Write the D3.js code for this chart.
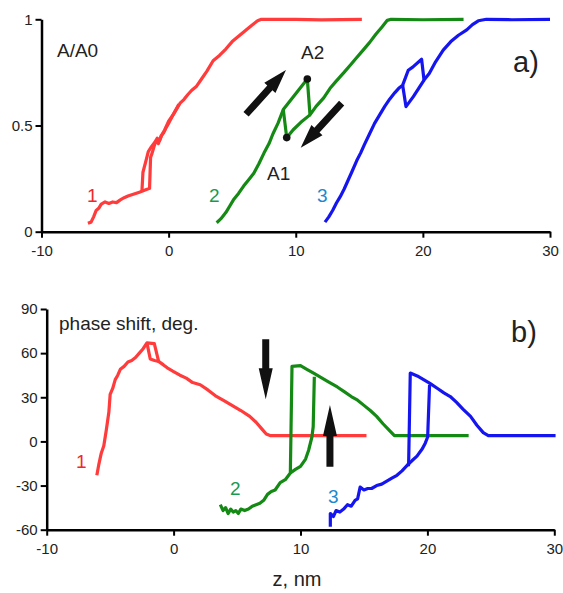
<!DOCTYPE html>
<html>
<head>
<meta charset="utf-8">
<script src="https://cdn.jsdelivr.net/npm/d3@7"></script>
<style>
  body { margin: 0; background: #fff; }
  text { font-family: "Liberation Sans", Arial, sans-serif; fill: #222; }
</style>
</head>
<body>
<div id="chart"></div>
<script>
const width = 563,
      height = 593;

// tick labels
const zTicks = [-10, 0, 10, 20, 30];
const ampTicks = [0, 0.5, 1];
const phaseTicks = [-60, -30, 0, 30, 60, 90];

// a) amplitude A/A0 vs z (nm), each curve: main run + the other branch of its loop
const amp1 = [[-6.35,0.04],[-6.1,0.045],[-5.9,0.07],[-5.7,0.1],[-5.5,0.11],[-5.3,0.13],[-5.0,0.14],[-4.7,0.133],[-4.4,0.14],[-4.1,0.137],[-3.8,0.15],[-3.5,0.16],[-3.2,0.168],[-2.9,0.174],[-2.6,0.18],[-2.3,0.186],[-2.1,0.19],[-1.8,0.197],[-1.5,0.204],[-1.42,0.35],[-1.3,0.37],[-1.1,0.41],[-0.95,0.43],[-0.8,0.415],[-0.6,0.45],[-0.4,0.465],[-0.2,0.49],[0,0.51],[0.3,0.545],[0.6,0.575],[0.9,0.605],[1.2,0.622],[1.5,0.645],[1.8,0.665],[2.2,0.685],[2.6,0.72],[3.0,0.755],[3.5,0.805],[4.0,0.83],[4.5,0.86],[5.0,0.895],[5.5,0.92],[6.0,0.945],[6.5,0.97],[7.0,0.993],[7.3,1.0],[10,1.0],[12,0.997],[15.2,1.0]];
const amp1Loop = [[-2.1,0.19],[-2.02,0.28],[-1.8,0.33],[-1.6,0.377],[-1.35,0.4],[-1.1,0.42],[-0.9,0.44],[-0.7,0.43],[-0.5,0.46],[-0.3,0.48],[0,0.52],[0.4,0.555],[0.8,0.6]];
const amp2 = [[3.78,0.042],[4.1,0.06],[4.5,0.09],[4.8,0.12],[5.1,0.15],[5.5,0.18],[5.9,0.215],[6.3,0.245],[6.7,0.275],[7.1,0.32],[7.5,0.37],[7.9,0.415],[8.2,0.46],[8.6,0.51],[9.02,0.575],[10.91,0.719],[11.12,0.55],[11.6,0.59],[12.2,0.63],[12.7,0.675],[13.2,0.71],[13.8,0.75],[14.3,0.785],[14.8,0.82],[15.3,0.855],[15.8,0.89],[16.3,0.93],[16.8,0.965],[17.2,0.995],[17.5,1.0],[20,0.998],[23.2,1.0]];
const amp2Loop = [[9.02,0.575],[9.29,0.443],[9.8,0.48],[10.4,0.515],[11.12,0.55]];
const amp3 = [[12.3,0.045],[12.6,0.07],[12.9,0.1],[13.2,0.135],[13.5,0.165],[13.8,0.2],[14.1,0.24],[14.4,0.28],[14.8,0.335],[15.1,0.37],[15.4,0.41],[15.8,0.46],[16.2,0.51],[16.6,0.55],[17.0,0.59],[17.4,0.625],[17.8,0.655],[18.1,0.675],[18.41,0.69],[18.85,0.76],[19.2,0.775],[19.9,0.812],[20.09,0.714],[20.5,0.745],[21.0,0.8],[21.6,0.855],[22.2,0.895],[22.8,0.925],[23.45,0.95],[23.9,0.975],[24.36,0.993],[25,1.0],[27,0.998],[30,1.0]];
const amp3Loop = [[18.41,0.69],[18.67,0.589],[19.25,0.636],[20.09,0.714]];

// b) phase shift (deg.) vs z (nm)
const phase1 = [[-6.05,-23],[-5.9,-16],[-5.7,-8],[-5.5,-3],[-5.3,8],[-5.1,20],[-5.0,32],[-4.8,36],[-4.6,42],[-4.4,45],[-4.2,49],[-3.9,51],[-3.6,54],[-3.3,55],[-3.0,57],[-2.7,60],[-2.4,63],[-2.1,67],[-1.52,66.5],[-1.18,54.4],[-0.8,52],[-0.5,50],[0,47.5],[0.5,45],[1.0,43],[1.5,40],[2.1,38.5],[2.7,35],[3.3,31],[4.0,27.5],[4.7,24],[5.3,21],[6.0,17],[6.5,13],[7.0,8],[7.3,5],[7.6,4],[10,4],[15.2,4]];
const phase1Loop = [[-2.1,67],[-1.84,56],[-1.5,55],[-1.18,54.4]];
const phase2 = [[3.68,-43],[3.9,-47],[4.1,-45],[4.3,-49],[4.5,-46],[4.7,-48],[4.9,-47],[5.1,-49],[5.3,-46],[5.6,-47],[5.9,-46],[6.2,-44],[6.5,-43],[6.8,-42],[7.1,-40],[7.4,-36],[7.7,-34],[8.0,-33],[8.4,-28],[8.8,-26],[9.2,-21.5],[9.33,51],[10.0,51.5],[10.5,49],[11.1,46],[11.6,43.5],[12.2,40.5],[12.9,37],[13.5,33.5],[14.0,30.5],[14.5,28],[15.0,24.5],[15.5,21],[16.0,17],[16.5,12],[17.0,7.5],[17.4,4],[20,4],[23.25,4]];
const phase2Loop = [[9.2,-21.5],[9.6,-19],[10.0,-17],[10.4,-12],[10.64,-6],[10.9,3],[11.0,10],[11.09,44]];
const phase3 = [[12.35,-58],[12.35,-49],[12.6,-51],[12.8,-47],[13.1,-48],[13.4,-46],[13.7,-43],[14.0,-44],[14.3,-40],[14.5,-39],[14.7,-31],[15.0,-33],[15.3,-32],[15.6,-32],[16.0,-30],[16.4,-29],[16.8,-27],[17.2,-25],[17.6,-23],[18.0,-20],[18.44,-16],[18.52,-16],[18.65,46.5],[19.2,44.5],[19.7,42],[20.2,39.5],[20.8,36],[21.3,33],[21.8,30.5],[22.3,26.5],[22.8,22],[23.4,17],[23.9,11],[24.4,6],[24.8,4],[27,4],[30.1,4]];
const phase3Loop = [[18.44,-16],[18.8,-13],[19.18,-10],[19.6,-5],[19.84,-1],[20.02,3],[20.17,38.5]];

// marked points A1, A2 and direction arrows (data coords)
const markers = [{name: "A1", z: 9.29, v: 0.443}, {name: "A2", z: 10.91, v: 0.719}];
const ampArrows = [[[6.09,0.553],[9.23,0.761]], [[13.61,0.605],[10.39,0.395]]];
const phaseArrows = [[[7.26,69.4],[7.26,28.6]], [[12.32,-17.2],[12.32,24.8]]];

const red = "#ff3b3b", green = "#148a14", blue = "#1515f0";

const svg = d3.select("#chart").append("svg")
    .attr("width", width)
    .attr("height", height);

// scales
const xTop = d3.scaleLinear().domain([-10, 30]).range([41.5, 550]);
const yTop = d3.scaleLinear().domain([0, 1]).range([231.7, 19.3]);
const xBot = d3.scaleLinear().domain([-10, 30]).range([46.7, 554.3]);
const yBot = d3.scaleLinear().domain([-60, 90]).range([529.7, 309]);

// plain hyphen for negatives, like the original
const plain = d => String(d);

function drawAxes(x, y, yTicks) {
  const gx = svg.append("g")
      .attr("transform", `translate(0,${y.range()[0]})`)
      .call(d3.axisBottom(x).tickValues(zTicks).tickFormat(plain).tickSize(6).tickSizeOuter(0).tickPadding(8));
  const gy = svg.append("g")
      .attr("transform", `translate(${x.range()[0]},0)`)
      .call(d3.axisLeft(y).tickValues(yTicks).tickFormat(plain).tickSize(6).tickSizeOuter(0).tickPadding(3));
  [gx, gy].forEach(g => {
    g.select(".domain").attr("stroke", "#000").attr("stroke-width", 2.5);
    g.selectAll(".tick line").attr("stroke", "#000").attr("stroke-width", 2);
    g.selectAll(".tick text").style("font-size", "15px").attr("fill", "#222")
      .style("font-family", '"Liberation Sans", Arial, sans-serif');
  });
}

drawAxes(xTop, yTop, ampTicks);
drawAxes(xBot, yBot, phaseTicks);

function drawCurve(x, y, pts, color) {
  const line = d3.line().x(d => x(d[0])).y(d => y(d[1]));
  svg.append("path")
    .datum(pts)
    .attr("d", line)
    .attr("fill", "none")
    .attr("stroke", color)
    .attr("stroke-width", 3.2)
    .attr("stroke-linejoin", "round");
}

drawCurve(xTop, yTop, amp1, red);
drawCurve(xTop, yTop, amp1Loop, red);
drawCurve(xTop, yTop, amp2, green);
drawCurve(xTop, yTop, amp2Loop, green);
drawCurve(xTop, yTop, amp3, blue);
drawCurve(xTop, yTop, amp3Loop, blue);

drawCurve(xBot, yBot, phase1, red);
drawCurve(xBot, yBot, phase1Loop, red);
drawCurve(xBot, yBot, phase2, green);
drawCurve(xBot, yBot, phase2Loop, green);
drawCurve(xBot, yBot, phase3, blue);
drawCurve(xBot, yBot, phase3Loop, blue);

// thick black arrow: shaft + triangular head
function arrow(x, y, a, headLen, headW, shaftW) {
  const x1 = x(a[0][0]), y1 = y(a[0][1]), x2 = x(a[1][0]), y2 = y(a[1][1]);
  const ang = Math.atan2(y2 - y1, x2 - x1);
  const len = Math.hypot(x2 - x1, y2 - y1);
  const g = svg.append("g")
    .attr("transform", `translate(${x1},${y1}) rotate(${ang * 180 / Math.PI})`);
  g.append("polygon")
    .attr("points", [
      [0, -shaftW / 2], [len - headLen, -shaftW / 2], [len - headLen, -headW / 2],
      [len, 0], [len - headLen, headW / 2], [len - headLen, shaftW / 2], [0, shaftW / 2]
    ].map(p => p.join(",")).join(" "))
    .attr("fill", "#111");
}

ampArrows.forEach(a => arrow(xTop, yTop, a, 24, 15, 7));
phaseArrows.forEach(a => arrow(xBot, yBot, a, 31, 14, 7));

svg.selectAll("circle.marker")
  .data(markers)
  .enter().append("circle")
    .attr("class", "marker")
    .attr("cx", d => xTop(d.z))
    .attr("cy", d => yTop(d.v))
    .attr("r", 3.8)
    .attr("fill", "#111");

// text labels
const labels = [
  {t: "A/A0", x: 57, y: 57, size: 19, c: "#222"},
  {t: "a)", x: 513, y: 72, size: 29, c: "#222"},
  {t: "A2", x: 301, y: 59, size: 19, c: "#222"},
  {t: "A1", x: 267, y: 180, size: 19, c: "#222"},
  {t: "1", x: 87, y: 202, size: 19, c: "#f0282d"},
  {t: "2", x: 209, y: 202, size: 19, c: "#1a9a50"},
  {t: "3", x: 317, y: 202, size: 19, c: "#1c88d0"},
  {t: "phase shift, deg.", x: 59, y: 330, size: 19, c: "#222"},
  {t: "b)", x: 511, y: 342, size: 29, c: "#222"},
  {t: "1", x: 76, y: 468, size: 19, c: "#f0282d"},
  {t: "2", x: 230, y: 495, size: 19, c: "#1a9a50"},
  {t: "3", x: 328, y: 503, size: 19, c: "#1c88d0"},
  {t: "z, nm", x: 297, y: 586, size: 20, c: "#222", anchor: "middle"}
];

svg.selectAll("text.lbl")
  .data(labels)
  .enter().append("text")
    .attr("class", "lbl")
    .attr("x", d => d.x)
    .attr("y", d => d.y)
    .attr("text-anchor", d => d.anchor || "start")
    .style("font-size", d => d.size + "px")
    .style("fill", d => d.c)
    .text(d => d.t);
</script>
</body>
</html>
